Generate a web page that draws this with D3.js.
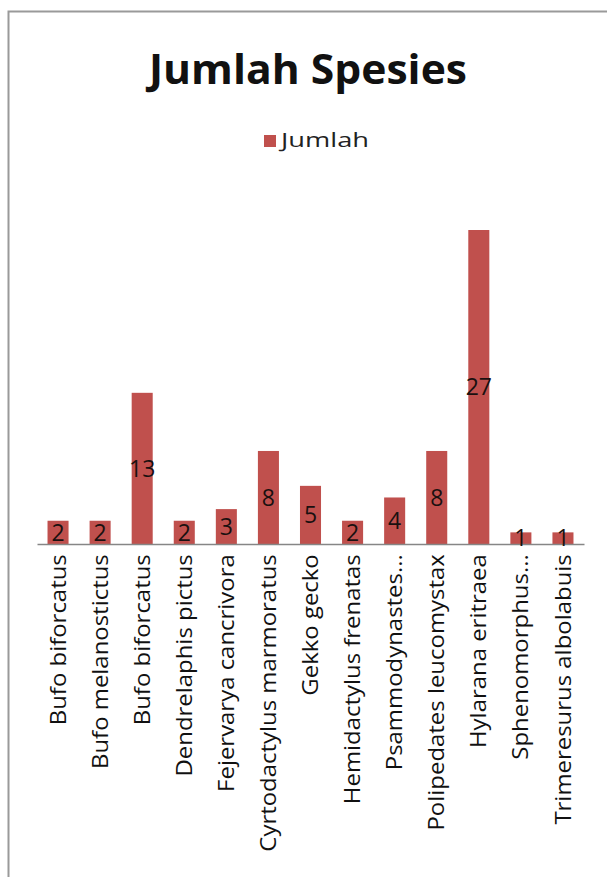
<!DOCTYPE html>
<html>
<head>
<meta charset="utf-8">
<script src="https://cdn.jsdelivr.net/npm/d3@7"></script>
<style>
  html, body { margin: 0; padding: 0; background: #ffffff; }
  svg { display: block; }
</style>
</head>
<body>
<div id="chart"></div>
<script>
// Species names (x categories)
const species = [
  "Bufo biforcatus",
  "Bufo melanostictus",
  "Bufo biforcatus",
  "Dendrelaphis pictus",
  "Fejervarya cancrivora",
  "Cyrtodactylus marmoratus",
  "Gekko gecko",
  "Hemidactylus frenatas",
  "Psammodynastes...",
  "Polipedates leucomystax",
  "Hylarana eritraea",
  "Sphenomorphus...",
  "Trimeresurus albolabuis"
];
// Count per species
const jumlah = [2, 2, 13, 2, 3, 8, 5, 2, 4, 8, 27, 1, 1];
const seriesName = "Jumlah";
const chartTitle = "Jumlah Spesies";

const W = 607, H = 877;
const FONT = "'Open Sans', 'DejaVu Sans', sans-serif";
const BAR = "#c0504d";

const svg = d3.select("#chart").append("svg")
  .attr("width", W).attr("height", H);

// chart frame
svg.append("rect")
  .attr("x", 8.5).attr("y", 11.5)
  .attr("width", W + 20).attr("height", H + 20)
  .attr("fill", "#ffffff")
  .attr("stroke", "#9a9a9a").attr("stroke-width", 2);

const keys = species.map((d, i) => i);
const x = d3.scaleBand().domain(keys).range([37, 584]).paddingInner(0.5).paddingOuter(0.25);
const y = d3.scaleLinear().domain([0, d3.max(jumlah)]).range([544, 230]);

// title
svg.append("text")
  .attr("x", 308).attr("y", 84)
  .attr("text-anchor", "middle")
  .attr("font-family", FONT).attr("font-weight", 700)
  .attr("font-size", 41)
  .attr("fill", "#111")
  .attr("textLength", 318).attr("lengthAdjust", "spacingAndGlyphs")
  .text(chartTitle);

// legend
const lg = svg.append("g");
lg.append("rect")
  .attr("x", 264).attr("y", 135).attr("width", 12).attr("height", 12)
  .attr("fill", BAR);
lg.append("text")
  .attr("x", 281).attr("y", 147)
  .attr("font-family", FONT).attr("font-size", 20)
  .attr("fill", "#222")
  .attr("textLength", 88).attr("lengthAdjust", "spacingAndGlyphs")
  .text(seriesName);

// bars
svg.append("g").selectAll("rect")
  .data(jumlah)
  .join("rect")
  .attr("x", (d, i) => x(i))
  .attr("width", x.bandwidth())
  .attr("y", d => y(d))
  .attr("height", d => y(0) - y(d))
  .attr("fill", BAR);

// category axis
const xAxis = d3.axisBottom(x).tickSize(0).tickFormat(i => species[i]);
const gx = svg.append("g").attr("transform", `translate(0,${y(0)})`).call(xAxis);
gx.select(".domain").attr("stroke", "#868686").attr("stroke-width", 1.6);
gx.selectAll(".tick text")
  .attr("font-family", FONT).attr("font-size", 21)
  .attr("fill", "#111")
  .attr("text-anchor", "end")
  .attr("transform", "rotate(-90) scale(1.14,1)")
  .attr("x", -9).attr("y", 0).attr("dy", "0.36em");

// value labels
svg.append("g").selectAll("text")
  .data(jumlah)
  .join("text")
  .attr("x", (d, i) => x(i) + x.bandwidth() / 2)
  .attr("y", d => (y(d) + y(0)) / 2)
  .attr("dy", "0.36em")
  .attr("text-anchor", "middle")
  .attr("font-family", FONT).attr("font-size", 23)
  .attr("fill", "#1a1010")
  .text(d => d);
</script>
</body>
</html>
